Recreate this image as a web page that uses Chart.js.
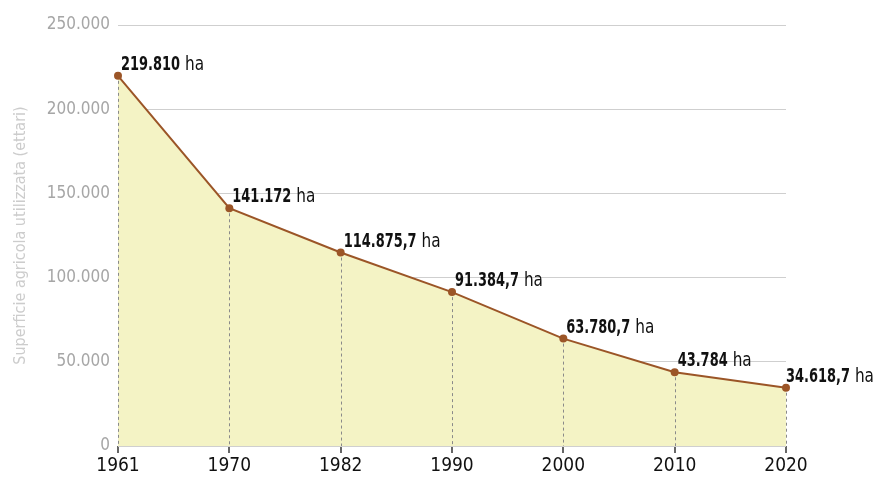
<!DOCTYPE html>
<html lang="it">
<head>
<meta charset="UTF-8">
<title>Superficie agricola utilizzata</title>
<script src="https://cdn.jsdelivr.net/npm/chart.js"></script>
<style>
    html, body { margin: 0; padding: 0; background: #ffffff; }
    .wrap { width: 879px; height: 477px; position: relative; }
</style>
</head>
<body>
<div class="wrap"><canvas id="chart" width="879" height="477"></canvas></div>
<script>
const years = ['1961', '1970', '1982', '1990', '2000', '2010', '2020'];
const hectares = [219810, 141172, 114875.7, 91384.7, 63780.7, 43784, 34618.7];
const yTicks = [0, 50000, 100000, 150000, 200000, 250000];

const FONT = '"DejaVu Sans Condensed", "Liberation Sans Narrow", "Roboto", sans-serif';

// Italian number format: 114875.7 -> "114.875,7"
function fmt(v) {
    const parts = String(v).split('.');
    const int = parts[0].replace(/\B(?=(\d{3})+(?!\d))/g, '.');
    return parts[1] ? int + ',' + parts[1] : int;
}

// dashed drop lines + value labels
const annotate = {
    id: 'annotate',
    afterDatasetsDraw(chart) {
        const ctx = chart.ctx;
        const meta = chart.getDatasetMeta(0);
        const base = chart.scales.y.getPixelForValue(0);

        // drop lines from each point to the baseline
        ctx.save();
        ctx.strokeStyle = '#8a8a8a';
        ctx.lineWidth = 1;
        ctx.setLineDash([3, 3]);
        meta.data.forEach(p => {
            ctx.beginPath();
            ctx.moveTo(Math.round(p.x) + 0.5, p.y + 5);
            ctx.lineTo(Math.round(p.x) + 0.5, base);
            ctx.stroke();
        });
        ctx.restore();

        // labels: bold value + " ha", squeezed horizontally
        ctx.save();
        ctx.textBaseline = 'alphabetic';
        ctx.textAlign = 'left';
        ctx.fillStyle = '#111111';
        meta.data.forEach((p, i) => {
            const num = fmt(hectares[i]);
            const x = p.x + (i === meta.data.length - 1 ? 0 : 3);
            const y = p.y - 6;
            ctx.save();
            ctx.translate(x, y);
            ctx.scale(0.72, 1);
            ctx.font = 'bold 20px ' + FONT;
            ctx.fillText(num, 0, 0);
            const w = ctx.measureText(num).width * 0.72;
            ctx.restore();
            ctx.save();
            ctx.translate(x + w + 5, y);
            ctx.scale(0.85, 1);
            ctx.font = '20px ' + FONT;
            ctx.fillText('ha', 0, 0);
            ctx.restore();
        });
        ctx.restore();
    }
};

new Chart(document.getElementById('chart').getContext('2d'), {
    type: 'line',
    data: {
        labels: years,
        datasets: [{
            data: hectares,
            borderColor: '#9b5527',
            borderWidth: 2,
            backgroundColor: '#f4f3c5',
            fill: 'origin',
            tension: 0,
            pointRadius: 4,
            pointBackgroundColor: '#9b5527',
            pointBorderWidth: 0
        }]
    },
    options: {
        responsive: false,
        animation: false,
        layout: { padding: { top: 25, right: 93, bottom: 0, left: 0 } },
        plugins: { legend: { display: false }, tooltip: { enabled: false } },
        scales: {
            x: {
                type: 'category',
                offset: false,
                afterFit(scale) { scale.height = 31; },
                grid: { display: true, drawOnChartArea: false, drawTicks: true, tickLength: 7, color: '#666666', lineWidth: 2 },
                border: { display: false },
                ticks: { color: '#111111', font: { family: FONT, size: 19 }, padding: 2, maxRotation: 0 }
            },
            y: {
                min: 0,
                max: 250000,
                afterBuildTicks(scale) { scale.ticks = yTicks.map(v => ({ value: v })); },
                afterFit(scale) { scale.width = 118; },
                grid: { color: '#cfcfcf', lineWidth: 1, drawTicks: false },
                border: { display: false },
                ticks: {
                    color: '#a6a6a6',
                    font: { family: FONT, size: 17 },
                    padding: 8,
                    callback: v => fmt(v)
                },
                title: {
                    display: true,
                    text: 'Superficie agricola utilizzata (ettari)',
                    color: '#cccccc',
                    font: { family: FONT, size: 16 },
                    padding: { top: 11, bottom: 0 }
                }
            }
        }
    },
    plugins: [annotate]
});
</script>
</body>
</html>
